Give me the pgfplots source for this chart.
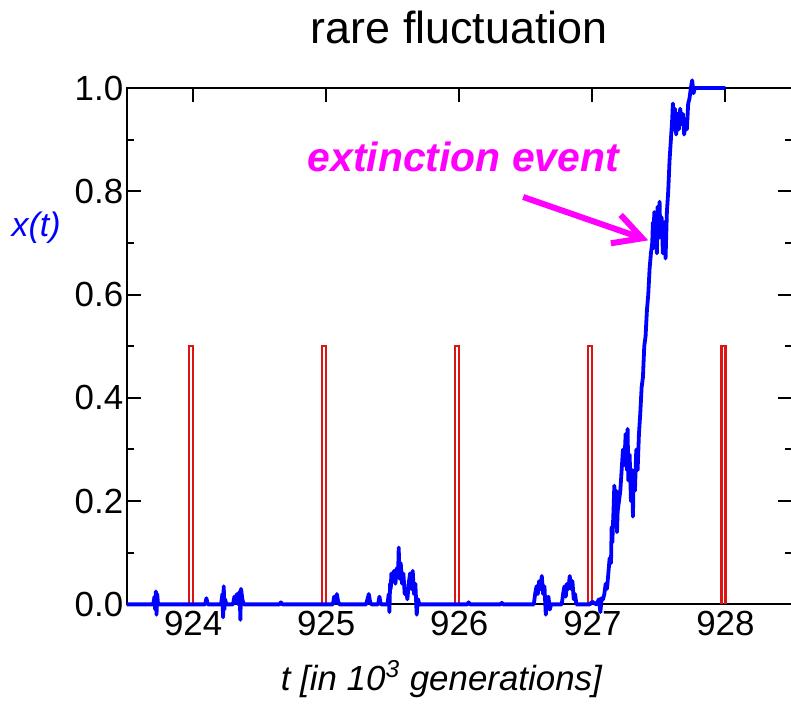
\documentclass[border=0pt]{standalone}
\usepackage{fontspec}
\setmainfont{Liberation Sans}
\usepackage{pgfplots}
\pgfplotsset{compat=1.18}
\usetikzlibrary{arrows.meta}

\definecolor{pulsered}{RGB}{220,20,20}
\definecolor{annot}{RGB}{255,0,255}
\definecolor{traj}{RGB}{0,0,255}

\pgfplotstableread{
t x
923.500 0
923.700 0
923.710 0.015
923.715 -0.01
923.720 0.025
923.725 -0.02
923.730 0.02
923.735 0.005
923.740 0
924.090 0
924.100 0.012
924.110 0
924.210 0
924.220 0.02
924.225 -0.025
924.230 0.035
924.235 -0.01
924.240 0.01
924.250 0
924.300 0
924.310 0.015
924.320 0.005
924.330 0.02
924.340 0
924.350 0.025
924.355 -0.03
924.360 0.03
924.370 0.01
924.380 0
924.650 0
924.660 0.004
924.670 0
925.050 0
925.060 0.015
925.070 0.005
925.080 0.02
925.090 0.005
925.100 0
925.300 0
925.310 0.01
925.320 0.02
925.330 0.005
925.340 0
925.390 0
925.400 0.015
925.410 0
925.460 0
925.470 0.02
925.475 -0.015
925.480 0.04
925.485 0.03
925.490 0.06
925.500 0.045
925.510 0.065
925.520 0.04
925.530 0.07
925.540 0.055
925.545 0.11
925.550 0.05
925.560 0.08
925.570 0.04
925.580 0.06
925.590 0.02
925.600 0.03
925.610 0.01
925.620 0.04
925.630 0.06
925.640 0.03
925.650 0.065
925.660 0.02
925.670 0.04
925.680 -0.02
925.690 0.01
925.700 0
926.060 0
926.070 0.004
926.080 0
926.310 0
926.320 0.003
926.330 0
926.560 0
926.570 0.02
926.580 0.035
926.590 0.02
926.600 0.045
926.610 0.03
926.620 0.055
926.630 0.02
926.640 0.035
926.650 -0.02
926.660 0.01
926.670 0.015
926.680 -0.01
926.690 0
926.770 0
926.780 0.02
926.790 0.035
926.800 0.015
926.810 0.04
926.820 0.03
926.830 0.055
926.840 0.03
926.850 0.045
926.860 0.01
926.870 0.02
926.880 0
926.980 0
927.000 0.005
927.030 0
927.050 0.01
927.060 -0.015
927.070 0.012
927.080 0.01
927.090 0.02
927.100 0.04
927.110 0.03
927.120 0.06
927.130 0.09
927.140 0.08
927.145 0.15
927.150 0.12
927.160 0.19
927.165 0.23
927.170 0.17
927.180 0.22
927.185 0.14
927.190 0.18
927.200 0.20
927.210 0.22
927.220 0.26
927.230 0.30
927.240 0.27
927.250 0.33
927.260 0.26
927.265 0.34
927.270 0.24
927.280 0.29
927.290 0.20
927.300 0.26
927.305 0.17
927.310 0.25
927.320 0.22
927.330 0.30
927.340 0.26
927.350 0.33
927.360 0.37
927.370 0.42
927.380 0.44
927.390 0.50
927.400 0.52
927.410 0.57
927.420 0.60
927.430 0.65
927.440 0.68
927.450 0.70
927.455 0.74
927.460 0.69
927.465 0.76
927.470 0.70
927.480 0.73
927.485 0.68
927.490 0.77
927.500 0.71
927.505 0.78
927.510 0.72
927.520 0.75
927.530 0.68
927.540 0.74
927.550 0.67
927.560 0.76
927.570 0.80
927.580 0.86
927.590 0.90
927.600 0.94
927.605 0.97
927.610 0.92
927.620 0.96
927.630 0.91
927.640 0.95
927.650 0.92
927.660 0.96
927.670 0.93
927.680 0.95
927.690 0.91
927.700 0.94
927.710 0.92
927.720 0.97
927.730 0.98
927.740 1.00
927.750 1.015
927.760 0.99
927.770 1.00
928.000 1.00
}\xdata

% one pulse per 10^3 generations, nan rows break the line between them
\pgfplotstableread{
t p
923.97 0
923.97 0.5
924.00 0.5
924.00 0
nan nan
924.97 0
924.97 0.5
925.00 0.5
925.00 0
nan nan
925.97 0
925.97 0.5
926.00 0.5
926.00 0
nan nan
926.97 0
926.97 0.5
927.00 0.5
927.00 0
nan nan
927.97 0
927.97 0.5
928.00 0.5
928.00 0
}\pulses

\begin{document}
\begin{tikzpicture}
\begin{axis}[
    scale only axis,
    width=332.5bp, height=258bp,
    xmin=923.5, xmax=928.5,
    ymin=0, ymax=1,
    clip=false,
    unbounded coords=jump,
    xtick={924,925,926,927,928},
    ytick={0,0.2,0.4,0.6,0.8,1.0},
    minor y tick num=1,
    tick align=inside,
    major tick length=7bp,
    minor tick length=3.5bp,
    axis line style={line width=1bp},
    every tick/.style={black, line width=1bp},
    /pgf/number format/assume math mode=true,
    ticklabel style={font=\fontsize{17.5}{20}\selectfont},
    yticklabel style={inner xsep=1.5bp, /pgf/number format/.cd, fixed, fixed zerofill, precision=1},
    xticklabel style={/pgf/number format/.cd, set thousands separator={}},
    title={rare fluctuation},
    title style={font=\fontsize{22.5}{26}\selectfont, at={(axis description cs:0.5,1)}, anchor=base, yshift=16.5bp},
    xlabel={\itshape t [in 10\textsuperscript{3} generations]},
    xlabel style={font=\fontsize{17.5}{20}\selectfont, at={(axis description cs:0.473,0)}, anchor=base, yshift=-43bp},
    ylabel={\itshape x(t)},
    ylabel style={font=\fontsize{17}{20}\selectfont, text=traj, rotate=-90, at={(axis description cs:-0.136,0.729)}, anchor=center},
]
\addplot[pulsered, line width=1.1bp, no markers] table[x=t, y=p] {\pulses};
\addplot[traj, line width=1.9bp, no markers, line join=round] table[x=t, y=x] {\xdata};
\node[annot, font=\fontsize{20.5}{24}\selectfont\bfseries\itshape, anchor=center] at (axis cs:926.03,0.866) {extinction event};
\draw[annot, line width=3bp, -{Straight Barb[length=14bp, width=15bp]}] (axis cs:926.48,0.789) -- (axis cs:927.42,0.705);
\end{axis}
\pgfresetboundingbox
\path[use as bounding box] (-63.25bp,-52bp) rectangle (332bp,302bp);
\end{tikzpicture}
\end{document}
